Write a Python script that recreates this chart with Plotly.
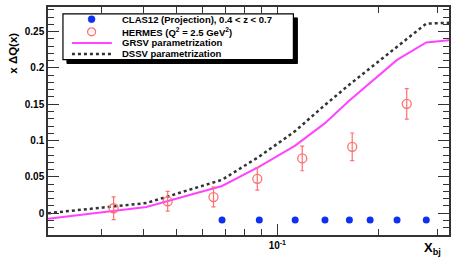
import plotly.graph_objects as go
import math

# ---- data ----
clas_x = [0.0685, 0.0884, 0.113, 0.1386, 0.1638, 0.1888, 0.227, 0.2773]
clas_y = [-0.0095, -0.0095, -0.0095, -0.0095, -0.0095, -0.0095, -0.0095, -0.0095]

hermes_x = [0.0326, 0.0472, 0.0646, 0.0872, 0.1186, 0.167, 0.2426]
hermes_y = [0.0068, 0.0164, 0.0222, 0.0473, 0.0754, 0.0914, 0.1505]
hermes_err = [0.0157, 0.0136, 0.0136, 0.0155, 0.017, 0.019, 0.021]

grsv_x = [0.0208, 0.0408, 0.0685, 0.0884, 0.113, 0.1386, 0.1638, 0.1888, 0.227, 0.2773, 0.324]
grsv_y = [-0.0075, 0.0086, 0.0375, 0.064, 0.093, 0.124, 0.155, 0.179, 0.211, 0.235, 0.238]

dssv_x = [0.0208, 0.0408, 0.0685, 0.0884, 0.113, 0.1386, 0.1638, 0.1888, 0.227, 0.2773, 0.324]
dssv_y = [0.0, 0.014, 0.046, 0.078, 0.113, 0.149, 0.177, 0.200, 0.229, 0.261, 0.262]

y_ticks = [0, 0.05, 0.1, 0.15, 0.2, 0.25]
y_ticklabels = ["0", "0.05", "0.1", "0.15", "0.2", "0.25"]
x_major = [0.1]
x_major_labels = ["10<sup>-1</sup>"]
x_minor = [0.03, 0.04, 0.05, 0.06, 0.07, 0.08, 0.09, 0.2, 0.3]

legend_labels = [
    "CLAS12 (Projection), 0.4 &lt; z &lt; 0.7",
    "HERMES (Q<sup>2</sup> = 2.5 GeV<sup>2</sup>)",
    "GRSV parametrization",
    "DSSV parametrization",
]

BLUE = "#1030f0"
RED = "#ff6f6f"
MAG = "#ff44ff"
DARK = "#333333"
BLACK = "#000000"
WHITE = "#ffffff"
FONT = "Liberation Sans"

# plot area in pixels
L, R, T, B = 48, 450, 5, 235
W, H = 456, 263

def px(x):
    return (x - L) / (R - L)

def py(y):
    return (B - y) / (B - T)

fig = go.Figure()
fig.add_trace(go.Scatter(x=grsv_x, y=grsv_y, mode="lines",
                         line=dict(color=MAG, width=2), name="GRSV parametrization"))
fig.add_trace(go.Scatter(x=dssv_x, y=dssv_y, mode="lines",
                         line=dict(color=DARK, width=2.5, dash="dot"), name="DSSV parametrization"))
fig.add_trace(go.Scatter(x=hermes_x, y=hermes_y, mode="markers",
                         marker=dict(symbol="circle-open", size=9, color=RED, line=dict(width=1.3)),
                         error_y=dict(type="data", array=hermes_err, color=RED, thickness=1.2, width=2),
                         name="HERMES"))
fig.add_trace(go.Scatter(x=clas_x, y=clas_y, mode="markers",
                         marker=dict(symbol="circle", size=7, color=BLUE), name="CLAS12"))

# ---- hand-drawn legend in ROOT style ----
bx0, by0, bx1, by1 = 63, 12, 294, 58
sh = 4
rows = [17.3, 30.0, 41.3, 52.3]
cx = 91.7

shapes = [
    dict(type="rect", xref="paper", yref="paper", x0=px(bx0 + sh), x1=px(bx1 + sh), y0=py(by1 + sh), y1=py(by0 + sh),
         fillcolor=BLACK, line=dict(color=BLACK, width=1), layer="above"),
    dict(type="rect", xref="paper", yref="paper", x0=px(bx0), x1=px(bx1), y0=py(by1), y1=py(by0),
         fillcolor=WHITE, line=dict(color=BLACK, width=1.2), layer="above"),
    dict(type="circle", xref="paper", yref="paper", x0=px(cx - 3.5), x1=px(cx + 3.5),
         y0=py(rows[0] + 3.5), y1=py(rows[0] - 3.5), fillcolor=BLUE, line=dict(color=BLUE, width=0.5), layer="above"),
    dict(type="circle", xref="paper", yref="paper", x0=px(cx - 4), x1=px(cx + 4),
         y0=py(rows[1] + 4), y1=py(rows[1] - 4), fillcolor=WHITE, line=dict(color=RED, width=1.3), layer="above"),
    dict(type="line", xref="paper", yref="paper", x0=px(72), x1=px(112), y0=py(rows[2]), y1=py(rows[2]),
         line=dict(color=MAG, width=2), layer="above"),
    dict(type="line", xref="paper", yref="paper", x0=px(72), x1=px(112), y0=py(rows[3]), y1=py(rows[3]),
         line=dict(color=DARK, width=2.5, dash="dot"), layer="above"),
]

annotations = []
for r, lab in zip(rows, legend_labels):
    annotations.append(dict(xref="paper", yref="paper", x=px(120), y=py(r), text="<b>%s</b>" % lab,
                            showarrow=False, xanchor="left", yanchor="middle",
                            font=dict(family=FONT, size=9.5, color=BLACK)))
annotations.append(dict(xref="paper", yref="paper", x=px(13), y=py(52), text="<b>x ΔQ(x)</b>",
                        textangle=-90, showarrow=False, xanchor="center", yanchor="middle",
                        font=dict(family=FONT, size=11.5, color=BLACK)))
annotations.append(dict(xref="paper", yref="paper", x=px(444), y=py(249), text="<b>X<sub>bj</sub></b>",
                        showarrow=False, xanchor="right", yanchor="middle",
                        font=dict(family=FONT, size=13, color=BLACK)))

fig.update_layout(
    width=W, height=H,
    margin=dict(l=L, r=W - R, t=T, b=H - B),
    paper_bgcolor=WHITE, plot_bgcolor=WHITE,
    showlegend=False,
    shapes=shapes, annotations=annotations,
    font=dict(family=FONT, size=10, color=BLACK),
    xaxis=dict(type="log", range=[math.log10(0.0208), math.log10(0.324)],
               tickvals=x_major, ticktext=x_major_labels,
               ticks="inside", ticklen=11, tickcolor=DARK, tickwidth=1,
               showline=True, linecolor=DARK, linewidth=1.5, mirror="allticks",
               showgrid=False, zeroline=False,
               tickfont=dict(family=FONT, size=10, weight="bold"),
               minor=dict(tickvals=x_minor, ticks="inside", ticklen=6, tickcolor=DARK, showgrid=False)),
    yaxis=dict(range=[-0.030, 0.2838], tickvals=y_ticks, ticktext=y_ticklabels,
               ticks="inside", ticklen=11, tickcolor=DARK, tickwidth=1,
               showline=True, linecolor=DARK, linewidth=1.5, mirror="allticks",
               showgrid=False, zeroline=False,
               tickfont=dict(family=FONT, size=10, weight="bold"),
               minor=dict(dtick=0.01, ticks="inside", ticklen=6, tickcolor=DARK, showgrid=False)),
)

fig.write_html("out.html",
               config={"displayModeBar": False},
               post_script="document.body.style.margin='0px';document.body.style.overflow='hidden';")
